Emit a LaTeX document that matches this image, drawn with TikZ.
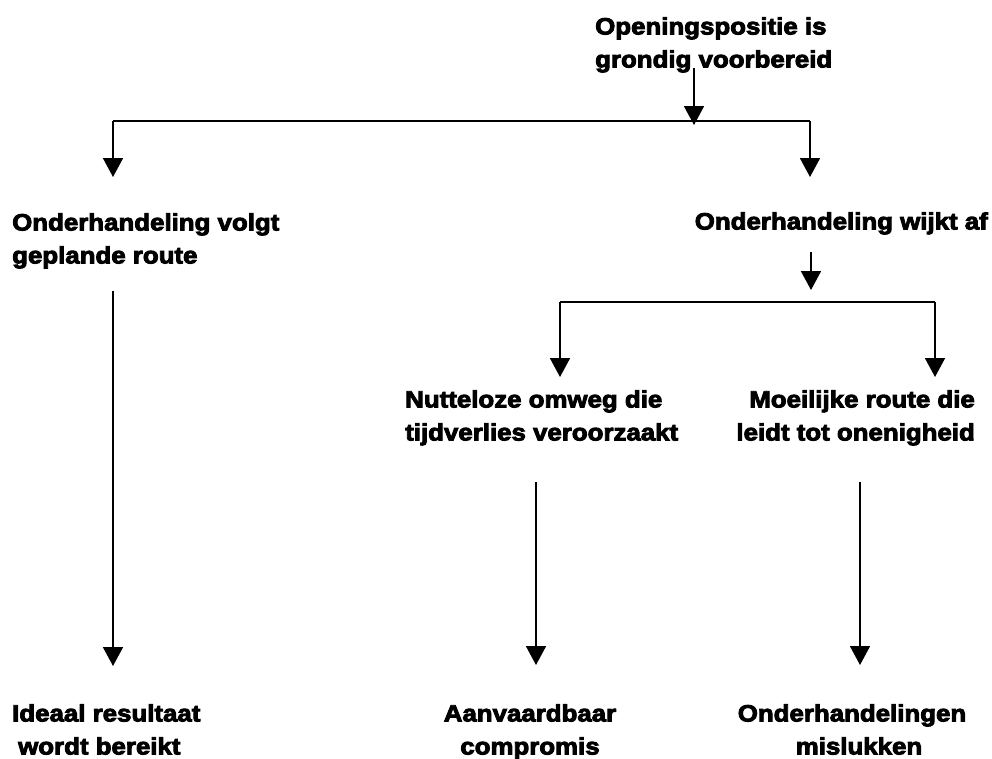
\documentclass[tikz,border=0pt]{standalone}
\usepackage{fontspec}
\newfontfamily\heavyfont[FakeStretch=1.10,FakeBold=3.8]{Liberation Sans Bold}
\usetikzlibrary{arrows.meta}
\begin{document}
\begin{tikzpicture}[x=1pt,y=-1pt,
  lbl/.style={inner sep=0pt,font=\heavyfont\fontsize{23.5}{33}\selectfont},
  conn/.style={line width=1.8pt},
  arr/.style={conn,-{Triangle[width=20pt,length=19pt]}}]
\useasboundingbox[fill=white] (0,0) rectangle (992,758);
% text nodes
\node[lbl,anchor=north west,align=left] (open) at (595,17.2) {Openingspositie is\\grondig voorbereid};
\node[lbl,anchor=north west,align=left] (volgt) at (12,213.2) {Onderhandeling volgt\\geplande route};
\node[lbl,anchor=north east] (wijkt) at (988,212.2) {Onderhandeling wijkt af};
\node[lbl,anchor=north west,align=left] (nut) at (405,390.2) {Nutteloze omweg die\\tijdverlies veroorzaakt};
\node[lbl,anchor=north east,align=right] (moei) at (975,390.2) {Moeilijke route die\\leidt tot onenigheid};
\node[lbl,anchor=north west,align=left] (ideaal) at (12,704.2) {Ideaal resultaat\\\hspace*{6pt}wordt bereikt};
\node[lbl,anchor=north,align=center] (aanv) at (530,704.2) {Aanvaardbaar\\compromis};
\node[lbl,anchor=north,align=center] (mislukt) at (852,704.2) {Onderhandelingen\\\hspace*{14pt}mislukken};
% junction coordinates
\coordinate (o1) at (694,68);
\coordinate (o2) at (694,125);
\coordinate (jl) at (113,121);
\coordinate (jr) at (810,121);
\coordinate (tl) at (113,177);
\coordinate (tr) at (810,177);
\coordinate (w1) at (811,252);
\coordinate (w2) at (811,290);
\coordinate (kl) at (560,302);
\coordinate (kr) at (935,302);
\coordinate (ul) at (560,377);
\coordinate (ur) at (935,377);
\coordinate (v1) at (113,291);
\coordinate (v2) at (113,666);
\coordinate (n1) at (536,482);
\coordinate (n2) at (536,665);
\coordinate (m1) at (860,482);
\coordinate (m2) at (860,665);
% connectors
\draw[arr] (o1) -- (o2);
\draw[conn] (jl) -- (jr);
\draw[arr] (jl) -- (tl);
\draw[arr] (jr) -- (tr);
\draw[arr] (w1) -- (w2);
\draw[conn] (kl) -- (kr);
\draw[arr] (kl) -- (ul);
\draw[arr] (kr) -- (ur);
\draw[arr] (v1) -- (v2);
\draw[arr] (n1) -- (n2);
\draw[arr] (m1) -- (m2);
\end{tikzpicture}
\end{document}
